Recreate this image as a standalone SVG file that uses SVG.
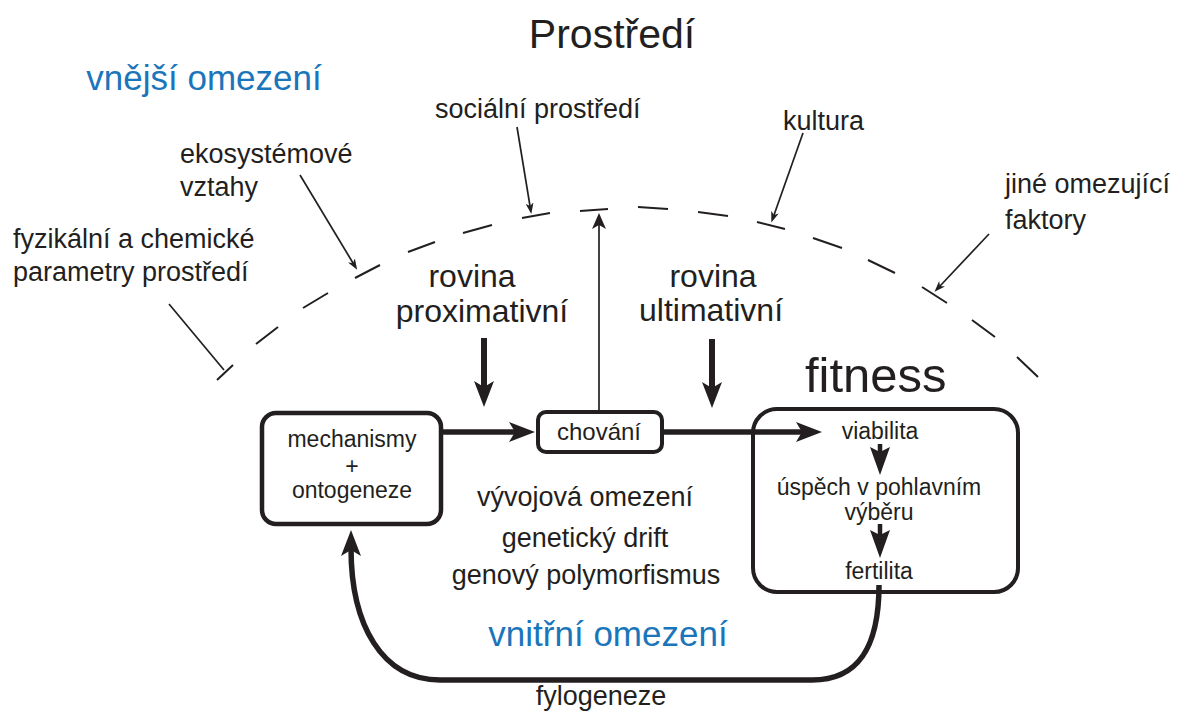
<svg xmlns="http://www.w3.org/2000/svg" width="1181" height="713" viewBox="0 0 1181 713">
<style>
text{font-family:"Liberation Sans",Arial,sans-serif;fill:#231f20}
.c{text-anchor:middle}
.blue{fill:#1b75bb}
.lab{font-size:27px}
.box{fill:#fff;stroke:#231f20}
.thin{fill:none;stroke:#231f20;stroke-width:1.7}
.thick{fill:none;stroke:#231f20}
.dash{fill:none;stroke:#231f20;stroke-width:2}
</style>
<defs>
<marker id="big" markerUnits="userSpaceOnUse" viewBox="0 -10 26 20" refX="8" refY="0" markerWidth="26" markerHeight="20" orient="auto">
<path d="M0,-10 L26,0 L0,10 L6,0 z" fill="#231f20"/>
</marker>
<marker id="mid" markerUnits="userSpaceOnUse" viewBox="0 -10 28 20" refX="8" refY="0" markerWidth="28" markerHeight="20" orient="auto">
<path d="M0,-10 L28,0 L0,10 L5,0 z" fill="#231f20"/>
</marker>
<marker id="small" markerUnits="userSpaceOnUse" viewBox="0 -7 16 14" refX="4" refY="0" markerWidth="16" markerHeight="14" orient="auto">
<path d="M0,-7 L16,0 L0,7 L4,0 z" fill="#231f20"/>
</marker>
<marker id="tiny" markerUnits="userSpaceOnUse" viewBox="0 -4 11 8" refX="3" refY="0" markerWidth="11" markerHeight="8" orient="auto">
<path d="M0,-4 L11,0 L0,4 L3,0 z" fill="#231f20"/>
</marker>
</defs>

<rect width="1181" height="713" fill="#fff"/>

<g id="arc">
<path class="dash" d="M217,380 L233,365 M256,344 L278,327 M303,308 L328,293 M355,278 L380,265 M408,252 L435,242 M463,233 L492,225 M522,218 L550,213 M580,211 L608,209 M638,207 L668,209 M698,212 L728,216 M757,222 L785,229 M813,238 L842,248 M868,260 L895,273 M922,287 L947,303 M972,320 L995,337 M1017,357 L1038,377"/>
</g>

<g id="connectors">
<line class="thin" x1="169" y1="304" x2="224" y2="370"/>
<line class="thin" x1="300" y1="175" x2="353" y2="263" marker-end="url(#tiny)"/>
<line class="thin" x1="517" y1="127" x2="530" y2="206" marker-end="url(#tiny)"/>
<line class="thin" x1="803" y1="133" x2="774" y2="215" marker-end="url(#tiny)"/>
<line class="thin" x1="989" y1="234" x2="940" y2="286" marker-end="url(#tiny)"/>
<line class="thin" x1="599" y1="411" x2="599" y2="225" marker-end="url(#small)"/>
<line class="thick" stroke-width="6" x1="484" y1="338" x2="484" y2="389" marker-end="url(#big)"/>
<line class="thick" stroke-width="6" x1="712" y1="339" x2="712" y2="390" marker-end="url(#big)"/>
<line class="thick" stroke-width="5.5" x1="442" y1="432" x2="517" y2="432" marker-end="url(#big)"/>
<line class="thick" stroke-width="5.5" x1="663" y1="432" x2="804" y2="432" marker-end="url(#big)"/>
<line class="thick" stroke-width="4.5" x1="880" y1="444" x2="880" y2="455" marker-end="url(#mid)"/>
<line class="thick" stroke-width="4.5" x1="880" y1="524" x2="880" y2="538" marker-end="url(#mid)"/>
<path class="thick" stroke-width="5.5" d="M879,585 C879,645 860,680 812,680 L440,680 C382,680 351,625 351,548" marker-end="url(#big)"/>
</g>

<g id="node-mechanismy">
<rect class="box" stroke-width="4.5" x="262" y="413" width="179" height="111" rx="14"/>
<text class="c" x="352" y="447" font-size="23">mechanismy</text>
<text class="c" x="352" y="474" font-size="23">+</text>
<text class="c" x="352" y="498" font-size="23">ontogeneze</text>
</g>

<g id="node-chovani">
<rect class="box" stroke-width="4" x="538" y="412" width="124" height="40" rx="8"/>
<text class="c" x="599" y="440" font-size="24">chování</text>
</g>

<g id="node-fitness">
<rect fill="none" stroke="#231f20" stroke-width="4" x="753" y="409" width="265" height="183" rx="24"/>
<text x="805" y="392" font-size="49">fitness</text>
<text class="c" x="880" y="439" font-size="23">viabilita</text>
<text class="c" x="879" y="495" font-size="23">úspěch v pohlavním</text>
<text class="c" x="879" y="520" font-size="23">výběru</text>
<text class="c" x="879" y="579" font-size="23">fertilita</text>
</g>

<g id="labels">
<text class="c" x="612" y="48" font-size="41">Prostředí</text>
<text class="c blue" x="204" y="90" font-size="35">vnější omezení</text>
<text class="lab" x="435" y="118">sociální prostředí</text>
<text class="lab" x="783" y="130">kultura</text>
<text class="lab" x="180" y="163">ekosystémové</text>
<text class="lab" x="180" y="196">vztahy</text>
<text class="lab" x="13" y="248">fyzikální a chemické</text>
<text class="lab" x="13" y="281">parametry prostředí</text>
<text class="lab" x="1005" y="193">jiné omezující</text>
<text class="lab" x="1005" y="229">faktory</text>
<text class="c" x="472" y="287" font-size="32">rovina</text>
<text class="c" x="482" y="322" font-size="32">proximativní</text>
<text class="c" x="713" y="287" font-size="32">rovina</text>
<text class="c" x="711" y="321" font-size="32">ultimativní</text>
<text class="c" x="585" y="506" font-size="27">vývojová omezení</text>
<text class="c" x="585" y="547" font-size="27">genetický drift</text>
<text class="c" x="586" y="584" font-size="27">genový polymorfismus</text>
<text class="c blue" x="608" y="646" font-size="35">vnitřní omezení</text>
<text class="c" x="601" y="705" font-size="27">fylogeneze</text>
</g>
</svg>
